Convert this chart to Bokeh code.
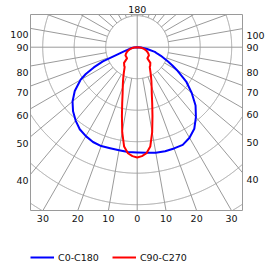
import math
from bokeh.plotting import figure
from bokeh.models import (Range1d, LinearAxis, FixedTicker, CustomJSTickFormatter,
                          Legend, LegendItem)
from bokeh.core.properties import value
from bokeh.embed import file_html
from bokeh.resources import INLINE

# ---------------- data ----------------
# gamma angles (deg from nadir) and luminous intensity (cd/klm)
blue_gamma = [0, 5, 10, 15, 20, 25, 30, 35, 40, 45, 50, 55, 60, 62.5, 65, 67.5, 70, 72.5, 75, 80, 85, 90]
blue_c0 = [167, 168, 170, 171, 171, 171, 166, 158, 145, 131, 113, 95, 73, 63, 54, 46, 40, 33, 29, 16, 6, 0]
blue_c180 = [167, 167, 166, 166, 167, 166, 163, 159, 152, 144, 134, 121, 104, 92, 76, 59, 33, 22, 16, 10, 5, 0]

red_gamma = [0, 2.5, 5, 7.5, 10, 12.5, 15, 17.5, 20, 22.5, 25, 27.5, 30, 32.5, 35, 37.5, 40,
             42.5, 45, 50, 55, 60, 65, 70, 75, 80, 85, 90]
red_c90 = [175, 173, 169, 159, 137, 112, 92, 77, 67, 59, 52, 46, 41, 37, 36, 34, 32.5,
           24, 23.5, 23, 22.7, 20.6, 18, 15, 12, 8, 4, 0]

ring_values = [50, 100, 150, 200, 250, 300]
spoke_angles = [10, 20, 30, 40, 50, 60, 70, 80, 100, 110, 120, 130, 140, 150, 160, 170]

side_tick_angles = [100, 90, 80, 70, 60, 50, 40]
side_tick_labels = ["100", "90", "80", "70", "60", "50", "40"]
bottom_tick_angles = [-30, -20, -10, 0, 10, 20, 30]
bottom_tick_labels = ["30", "20", "10", "0", "10", "20", "30"]
top_tick_labels = ["180"]

series_names = ["C0-C180", "C90-C270"]

# ---------------- layout ----------------
W, H = 275, 266
FL, FR, FT, FB = 29, 243, 13, 266        # plotting frame (px)
BL, BR, BT, BB = 30, 242, 14, 210        # diagram box (px)
CX, CY = 136.7, 46.7                      # pole position (px)
K = 50 / 31.5                             # units per px


def ux(px):
    return (px - CX) * K


def uy(py):
    return (CY - py) * K


bx0, bx1, by0, by1 = ux(BL), ux(BR), uy(BB), uy(BT)

GRID = "#9a9a9a"
TEXT = "#111111"
FONT = "DejaVu Sans"
FS = "9.5px"

p = figure(width=W, height=H, x_range=Range1d(ux(FL), ux(FR)), y_range=Range1d(uy(FB), uy(FT)),
           output_backend="svg", toolbar_location=None,
           x_axis_location=None, y_axis_location=None,
           min_border_left=FL, min_border_right=W - FR,
           min_border_top=FT, min_border_bottom=H - FB)
p.xgrid.visible = False
p.ygrid.visible = False
p.outline_line_color = None
p.background_fill_color = "white"
p.border_fill_color = "white"


def inside(x, y):
    return bx0 - 1e-9 <= x <= bx1 + 1e-9 and by0 - 1e-9 <= y <= by1 + 1e-9


# rings clipped to the box
ring_xs, ring_ys = [], []
N = 3600
for r in ring_values:
    X, Y = [], []
    for i in range(N + 1):
        t = 2 * math.pi * i / N
        x, y = r * math.cos(t), r * math.sin(t)
        if inside(x, y):
            X.append(x); Y.append(y)
        else:
            X.append(float("nan")); Y.append(float("nan"))
    ring_xs.append(X); ring_ys.append(Y)
p.multi_line(xs=ring_xs, ys=ring_ys, line_color=GRID, line_width=1)


def exit_len(dx, dy):
    ts = []
    if dx > 1e-12: ts.append(bx1 / dx)
    if dx < -1e-12: ts.append(bx0 / dx)
    if dy > 1e-12: ts.append(by1 / dy)
    if dy < -1e-12: ts.append(by0 / dy)
    return min(ts)


# spokes from the first ring to the box edge
r_in = ring_values[0]
xs, ys = [], []
for g in spoke_angles:
    for s in (-1, 1):
        a = math.radians(g)
        dx, dy = s * math.sin(a), -math.cos(a)
        L = exit_len(dx, dy)
        if L > r_in:
            xs.append([r_in * dx, L * dx]); ys.append([r_in * dy, L * dy])
xs += [[0, 0], [bx0, bx1]]
ys += [[by0, by1], [0, 0]]
p.multi_line(xs=xs, ys=ys, line_color=GRID, line_width=1)

# box
p.quad(left=[bx0], right=[bx1], bottom=[by0], top=[by1], fill_color=None,
       line_color=GRID, line_width=1)


def polar_curve(gam, left, right):
    X, Y = [], []
    for g, r in reversed(list(zip(gam, left))):
        a = math.radians(g)
        X.append(-r * math.sin(a)); Y.append(-r * math.cos(a))
    for g, r in zip(gam, right):
        a = math.radians(g)
        X.append(r * math.sin(a)); Y.append(-r * math.cos(a))
    return X, Y


bxs, bys = polar_curve(blue_gamma, blue_c180, blue_c0)
rxs, rys = polar_curve(red_gamma, red_c90, red_c90)
rb = p.line(bxs, bys, line_color="#0000ff", line_width=2, line_join="round")
rr = p.line(rxs, rys, line_color="#ff0000", line_width=2, line_join="round")

# bottom angle labels (below the box)
bt = [abs(by0) * math.tan(math.radians(g)) for g in bottom_tick_angles]
p.text(x=bt, y=[uy(BB + 7.5)] * len(bt), text=bottom_tick_labels,
       text_font=value(FONT), text_font_size=FS, text_color=TEXT,
       text_align="center", text_baseline="middle")

# ---------------- axes ----------------
OFF = 6.5 * K


def side_ticks(xside):
    t = []
    for g in side_tick_angles:
        if g == 90:
            t.append(0.0)
        else:
            t.append(-abs(xside) / math.tan(math.radians(g)) - OFF)
    return t


def make_formatter(ticks, labels):
    return CustomJSTickFormatter(args=dict(vals=ticks, labs=labels), code="""
        let b = 0;
        for (let i = 0; i < vals.length; i++) {
            if (Math.abs(vals[i] - tick) < Math.abs(vals[b] - tick)) { b = i; }
        }
        return labs[b];
    """)


def style(ax, standoff):
    ax.axis_line_color = None
    ax.major_tick_line_color = None
    ax.minor_tick_line_color = None
    ax.major_tick_out = 0
    ax.major_tick_in = 0
    ax.minor_tick_out = 0
    ax.minor_tick_in = 0
    ax.major_label_standoff = standoff
    ax.major_label_text_font = FONT
    ax.major_label_text_font_size = FS
    ax.major_label_text_color = TEXT


lt = side_ticks(bx0)
left_ax = LinearAxis(ticker=FixedTicker(ticks=lt, minor_ticks=[]),
                     formatter=make_formatter(lt, side_tick_labels))
style(left_ax, 1)
p.add_layout(left_ax, "left")

rt = side_ticks(bx1)
right_ax = LinearAxis(ticker=FixedTicker(ticks=rt, minor_ticks=[]),
                      formatter=make_formatter(rt, side_tick_labels))
style(right_ax, 3)
p.add_layout(right_ax, "right")

tt = [0.0]
top_ax = LinearAxis(ticker=FixedTicker(ticks=tt, minor_ticks=[]),
                    formatter=make_formatter(tt, top_tick_labels))
style(top_ax, 1)
p.add_layout(top_ax, "above")

# ---------------- legend ----------------
legend = Legend(items=[LegendItem(label=series_names[0], renderers=[rb]),
                       LegendItem(label=series_names[1], renderers=[rr])],
                orientation="horizontal", location=(1, 0),
                glyph_width=24, glyph_height=18, label_height=18,
                label_standoff=4, spacing=13, padding=0, margin=0,
                border_line_color=None, background_fill_alpha=0,
                label_text_font=FONT, label_text_font_size=FS,
                label_text_color=TEXT)
p.add_layout(legend)

open("out.html", "w").write(file_html(p, INLINE))
